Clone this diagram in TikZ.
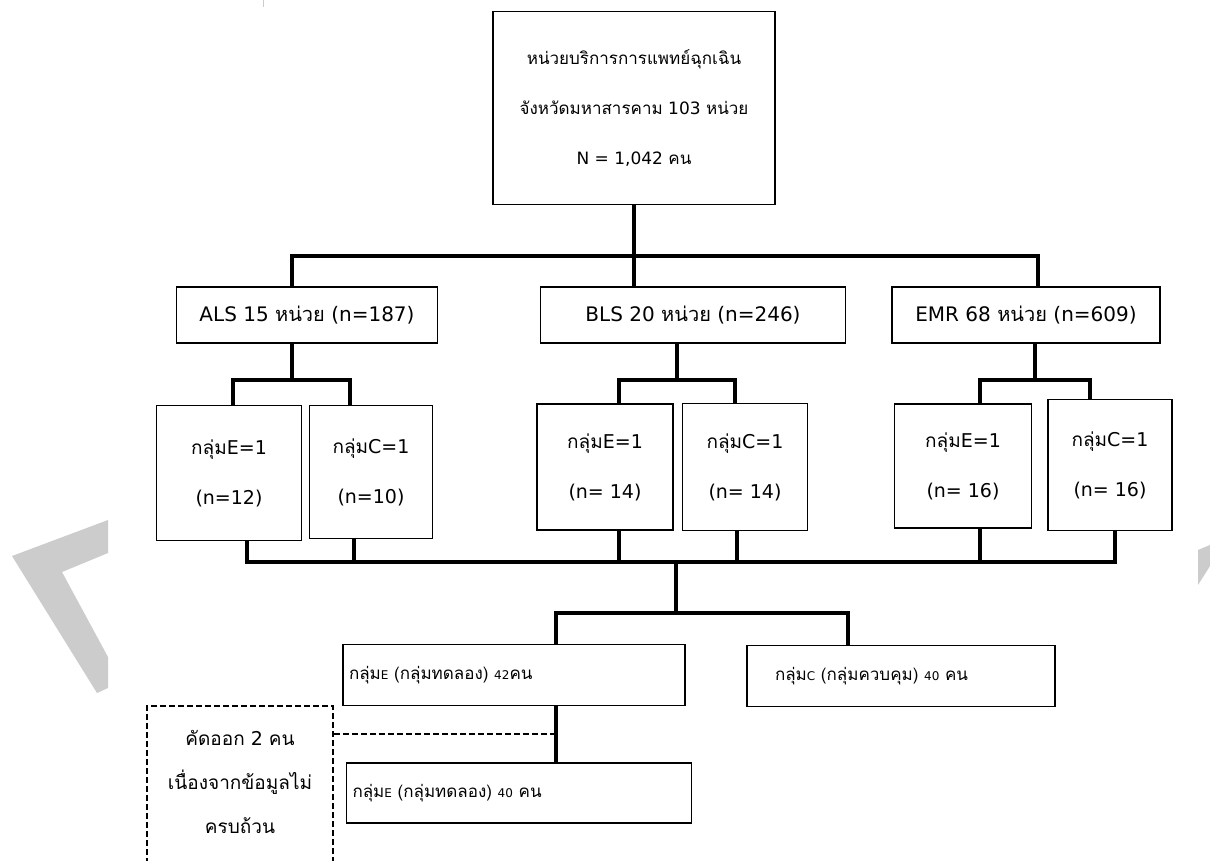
\documentclass[tikz,border=0pt]{standalone}
\usepackage{fontspec}
\setmainfont{DejaVu Sans}
\newfontfamily\thaifont[Script=Thai]{Loma}
\definecolor{wmark}{RGB}{204,204,204}
\newcommand{\tha}[1]{{\thaifont #1}}
\newcommand{\smallsc}[1]{{\fontsize{12}{12}\selectfont #1}}

\begin{document}
\begin{tikzpicture}[x=1pt, y=-1pt,
    box/.style={draw, line width=1.5pt, inner sep=0pt, align=center,
        font=\fontsize{17}{50}\selectfont},
    unitbox/.style={box, font=\fontsize{20}{50}\selectfont},
    subbox/.style={box, font=\fontsize{19}{50}\selectfont},
    leftbox/.style={box, align=left, text width=#1},
    cutbox/.style={box, dash pattern=on 6pt off 3pt, font=\fontsize{19}{44}\selectfont},
    conn/.style={line width=3.5pt},
    link/.style={line width=1.5pt, dash pattern=on 6pt off 3pt}]
    \clip (0,0) rectangle (1210,860);
    \fill[white] (0,0) rectangle (1210,860);

    % 透かし
    \fill[wmark] (108,520) -- (12,556) -- (97,693) -- (108,688) -- (108,657)
        -- (62,572) -- (108,553) -- cycle;
    \fill[wmark] (1198,550) -- (1210,545) -- (1210,566) -- (1198,585) -- cycle;
    \draw[wmark, line width=1pt] (263,0) -- (263,7);

    % 母集団
    \node[box, minimum width=282, minimum height=193] (top) at (634,108)
        {\tha{หน่วยบริการการแพทย์ฉุกเฉิน}\\\tha{จังหวัดมหาสารคาม} 103 \tha{หน่วย}\\N = 1,042 \tha{คน}};

    % 3 種類の単位
    \node[unitbox, minimum width=261, minimum height=56] (als) at (307,315) {ALS 15 \tha{หน่วย} (n=187)};
    \node[unitbox, minimum width=305, minimum height=56] (bls) at (693,315) {BLS 20 \tha{หน่วย} (n=246)};
    \node[unitbox, minimum width=268, minimum height=56] (emr) at (1026,315) {EMR 68 \tha{หน่วย} (n=609)};

    % 各単位の E / C
    \node[subbox, minimum width=145, minimum height=135] (alsE) at (229,473) {\tha{กลุ่ม}E=1\\(n=12)};
    \node[subbox, minimum width=123, minimum height=133] (alsC) at (371,472) {\tha{กลุ่ม}C=1\\(n=10)};
    \node[subbox, minimum width=136, minimum height=126] (blsE) at (605,467) {\tha{กลุ่ม}E=1\\(n= 14)};
    \node[subbox, minimum width=125, minimum height=127] (blsC) at (745,467) {\tha{กลุ่ม}C=1\\(n= 14)};
    \node[subbox, minimum width=137, minimum height=124] (emrE) at (963,466) {\tha{กลุ่ม}E=1\\(n= 16)};
    \node[subbox, minimum width=124, minimum height=131] (emrC) at (1110,465) {\tha{กลุ่ม}C=1\\(n= 16)};

    % 最終グループ
    \node[leftbox=330, minimum width=342, minimum height=61] (grpE) at (514,675)
        {\tha{กลุ่ม}\smallsc{E} \tha{(กลุ่มทดลอง)} \smallsc{42}\tha{คน}};
    \node[leftbox=252, minimum width=308, minimum height=61] (grpC) at (901,676)
        {\tha{กลุ่ม}\smallsc{C} \tha{(กลุ่มควบคุม)} \smallsc{40} \tha{คน}};
    \node[leftbox=333, minimum width=345, minimum height=60] (grpEf) at (519,793)
        {\tha{กลุ่ม}\smallsc{E} \tha{(กลุ่มทดลอง)} \smallsc{40} \tha{คน}};
    \node[cutbox, minimum width=186, minimum height=196] (cut) at (240,804)
        {\tha{คัดออก} 2 \tha{คน}\\\tha{เนื่องจากข้อมูลไม่}\\\tha{ครบถ้วน}\\\mbox{}};

    % 分岐点
    \coordinate (b1L) at (292,256);
    \coordinate (b1R) at (1038,256);
    \coordinate (alsM) at (292,380);
    \coordinate (blsM) at (677,380);
    \coordinate (emrM) at (1035,380);
    \coordinate (b3L) at (245,562);
    \coordinate (b3R) at (1117,562);
    \coordinate (b3M) at (676,562);
    \coordinate (b4L) at (556,613);
    \coordinate (b4R) at (848,613);
    \coordinate (cutM) at (556,734);

    % 上段の分岐
    \draw[conn] (top.south) -- (top.south |- b1L);
    \draw[conn] (b1L |- als.north) -- (b1L) -- (b1R) -- (b1R |- emr.north);
    \draw[conn] (top.south |- b1L) -- (top.south |- bls.north);

    % 中段の分岐
    \draw[conn] (alsM |- als.south) -- (alsM);
    \draw[conn] (233,0 |- alsE.north) -- (233,0 |- alsM) -- (350,0 |- alsM) -- (350,0 |- alsC.north);
    \draw[conn] (blsM |- bls.south) -- (blsM);
    \draw[conn] (619,0 |- blsE.north) -- (619,0 |- blsM) -- (735,0 |- blsM) -- (735,0 |- blsC.north);
    \draw[conn] (emrM |- emr.south) -- (emrM);
    \draw[conn] (980,0 |- emrE.north) -- (980,0 |- emrM) -- (1090,0 |- emrM) -- (1090,0 |- emrC.north);

    % 合流
    \draw[conn] (b3L) -- (b3R);
    \foreach \xx/\nd in {247/alsE, 354/alsC, 619/blsE, 737/blsC, 980/emrE, 1115/emrC}
        \draw[conn] (\xx,0 |- \nd.south) -- (\xx,0 |- b3L);

    % 下段の分岐
    \draw[conn] (b3M) -- (b3M |- b4L);
    \draw[conn] (b4L -| b3M) -- (b4L) -- (b4L |- grpE.north);
    \draw[conn] (b4L -| b3M) -- (b4R) -- (b4R |- grpC.north);
    \draw[conn] (b4L |- grpE.south) -- (b4L |- grpEf.north);

    % 除外
    \draw[link] (cut.east |- cutM) -- (cutM);
\end{tikzpicture}
\end{document}
